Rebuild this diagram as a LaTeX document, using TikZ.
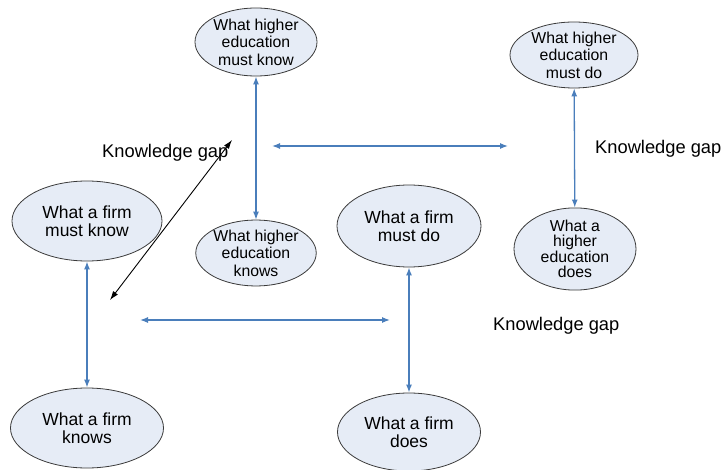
\documentclass[tikz,border=0pt]{standalone}
\usepackage{fontspec}
\setmainfont{Liberation Sans}
\usetikzlibrary{arrows.meta,shapes.geometric}
\definecolor{ovalFill}{HTML}{E6ECF6}
\definecolor{ovalEdge}{HTML}{3A3A3A}
\definecolor{gapBlue}{HTML}{4A7EBB}

\begin{document}
\begin{tikzpicture}[x=1pt,y=-1pt,
  oval/.style={ellipse,draw=ovalEdge,fill=ovalFill,line width=0.8pt,inner sep=0pt,align=center},
  heOval/.style={oval,minimum width=122pt,minimum height=68pt,font=\fontsize{15.8}{17.5}\selectfont},
  firmOval/.style={oval,minimum width=150pt,minimum height=80pt,font=\fontsize{17.5}{18.5}\selectfont},
  gapArrow/.style={{Latex[length=8pt,width=6pt]}-{Latex[length=8pt,width=6pt]},gapBlue,line width=1.3pt},
  gapLabel/.style={anchor=west,inner sep=0pt,font=\fontsize{18.3}{20}\selectfont}]
\useasboundingbox (0,0) rectangle (722,470);
\node[heOval] (heMustKnow) at (256,42) {What higher\\education\\must know};
\node[heOval,minimum width=128pt,minimum height=66pt] (heMustDo) at (574,55) {What higher\\education\\must do};
\node[heOval,minimum width=118pt,minimum height=62pt] (heKnows) at (256,253) {What higher\\education\\knows};
\node[heOval,font=\fontsize{15.8}{15.5}\selectfont] (heDoes) at (575,249) {What a\\higher\\education\\does};
\node[firmOval] (fMustKnow) at (87,221) {What a firm\\must know};
\node[firmOval,minimum width=153pt] (fKnows) at (87,428) {What a firm\\knows};
\node[firmOval,minimum width=144pt,minimum height=82pt] (fMustDo) at (409,226) {What a firm\\must do};
\node[firmOval,minimum width=143pt,minimum height=78pt] (fDoes) at (409,432) {What a firm\\does};
\coordinate (heLeft) at (272,146);
\coordinate (heRight) at (508,146);
\coordinate (fLeft) at (140,320);
\coordinate (fRight) at (390,320);
\coordinate (kLow) at (110,300);
\coordinate (kHigh) at (232,140);
\foreach \a/\b in {heMustKnow/heKnows, heMustDo/heDoes, fMustKnow/fKnows, fMustDo/fDoes}
  \draw[gapArrow] (\a) -- (\b);
\draw[gapArrow] (heLeft) -- (heRight);
\draw[gapArrow] (fLeft) -- (fRight);
\draw[{Latex[length=9pt,width=6pt]}-{Latex[length=9pt,width=6pt]},line width=0.9pt] (kLow) -- (kHigh);
\node[gapLabel] (gapTopLeft) at (102,153) {Knowledge gap};
\node[gapLabel] (gapRight) at (595,149) {Knowledge gap};
\node[gapLabel] (gapBottom) at (493,326) {Knowledge gap};
\end{tikzpicture}
\end{document}
